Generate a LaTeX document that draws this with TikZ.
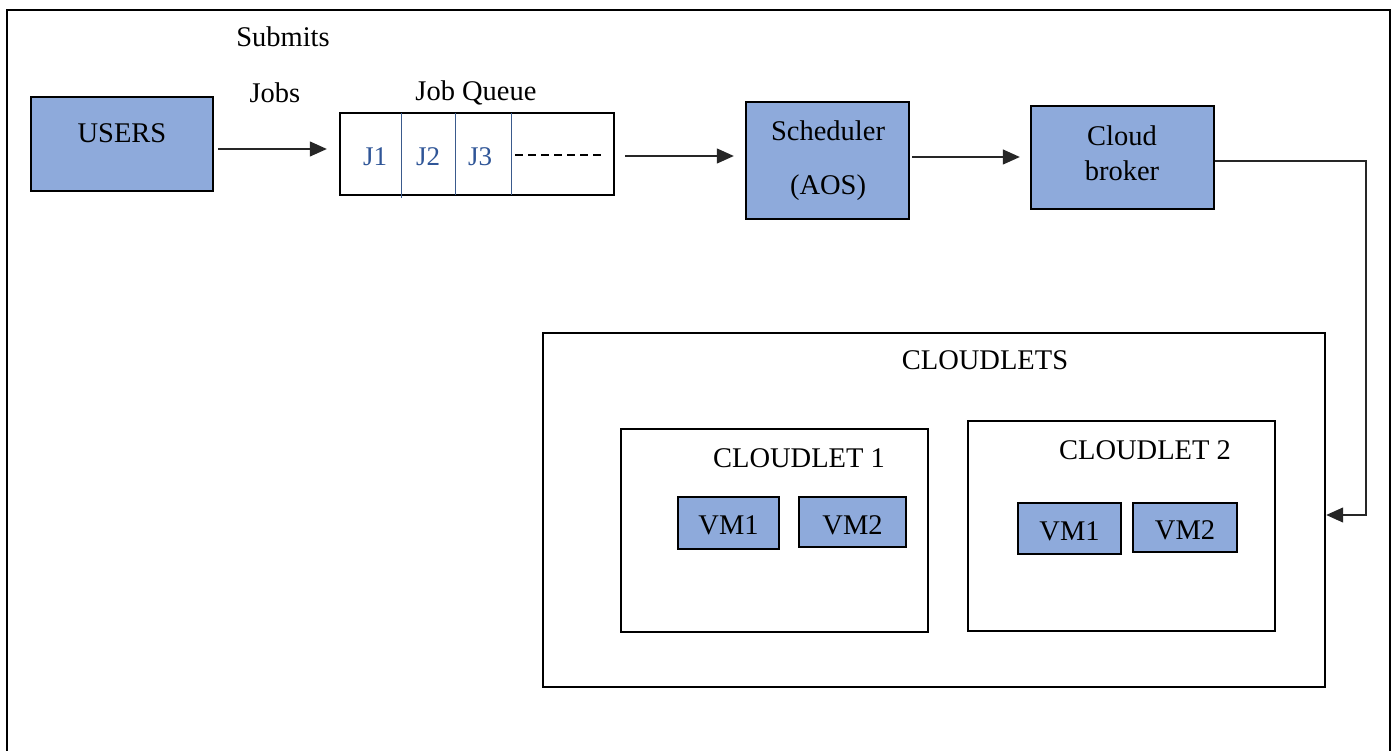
\documentclass[tikz,border=0pt]{standalone}
\usepackage{fontspec}
\setmainfont{Liberation Serif}
\usetikzlibrary{arrows.meta}
\definecolor{boxblue}{HTML}{8EAADB}
\definecolor{jblue}{HTML}{2F5597}
\definecolor{divblue}{HTML}{3A5A8C}
\tikzset{
  bluebox/.style={draw=black, line width=2.4pt, fill=boxblue, inner sep=0pt},
  whitebox/.style={draw=black, line width=2.4pt, fill=white, inner sep=0pt},
  txt/.style={inner sep=0pt, font=\fontsize{28.5}{33}\selectfont},
  jtxt/.style={inner sep=0pt, font=\fontsize{27}{31}\selectfont, text=jblue},
  conn/.style={draw=black!85, line width=1.3pt, -{Triangle[length=17pt,width=15pt]}},
}
\begin{document}
\begin{tikzpicture}[x=1pt,y=-1pt]
\useasboundingbox (0,0) rectangle (1396,751);
% outer frame
\draw[line width=2.6pt] (7,760) -- (7,10) -- (1390,10) -- (1390,760);

% users
\node[bluebox, minimum width=182pt, minimum height=94pt] (users) at (122,144) {};
\node[txt] (userst) at (122,133) {USERS};
\node[txt] (submits) at (283,37) {Submits};
\node[txt] (jobs) at (275,93) {Jobs};

% queue
\node[whitebox, minimum width=274pt, minimum height=82pt] (queue) at (477,154) {};
\node[txt] (queuet) at (476,93) {Job Queue};
\coordinate (d1a) at (401,113); \coordinate (d1b) at (401,198);
\coordinate (d2a) at (455,113); \coordinate (d2b) at (455,195);
\coordinate (d3a) at (511,113); \coordinate (d3b) at (511,195);
\draw[divblue, line width=1pt] (d1a) -- (d1b) (d2a) -- (d2b) (d3a) -- (d3b);
\node[jtxt] (j1) at (375,157) {J1};
\node[jtxt] (j2) at (428,157) {J2};
\node[jtxt] (j3) at (480,157) {J3};
\coordinate (dsa) at (515,155); \coordinate (dsb) at (602,155);
\draw[line width=2.4pt, dash pattern=on 8pt off 5pt] (dsa) -- (dsb);

% scheduler
\node[bluebox, minimum width=163pt, minimum height=117pt] (sched) at (827.5,160.5) {};
\node[txt] (schedt) at (828,131) {Scheduler};
\node[txt] (aos) at (828,188) {(AOS)};

% broker
\node[bluebox, minimum width=183pt, minimum height=103pt] (broker) at (1122.5,157.5) {};
\node[txt] (cloudt) at (1122,136) {Cloud};
\node[txt] (brokert) at (1122,171) {broker};

% cloudlets
\node[whitebox, minimum width=782pt, minimum height=354pt] (cloudlets) at (934,510) {};
\node[txt] (cloudletst) at (985,360) {CLOUDLETS};

\node[whitebox, minimum width=307pt, minimum height=203pt] (cl1) at (774.5,530.5) {};
\node[txt] (cl1t) at (799,458) {CLOUDLET 1};
\node[bluebox, minimum width=101pt, minimum height=52pt] (c1vm1) at (728.5,523) {};
\node[txt] (c1vm1t) at (728.5,525) {VM1};
\node[bluebox, minimum width=107pt, minimum height=50pt] (c1vm2) at (852.5,522) {};
\node[txt] (c1vm2t) at (852.5,525) {VM2};

\node[whitebox, minimum width=307pt, minimum height=210pt] (cl2) at (1121.5,526) {};
\node[txt] (cl2t) at (1145,450) {CLOUDLET 2};
\node[bluebox, minimum width=103pt, minimum height=51pt] (c2vm1) at (1069.5,528.5) {};
\node[txt] (c2vm1t) at (1069.5,531) {VM1};
\node[bluebox, minimum width=104pt, minimum height=49pt] (c2vm2) at (1185,527.5) {};
\node[txt] (c2vm2t) at (1185,530) {VM2};

% connectors
\draw[conn, shorten <=4pt, shorten >=12pt] (users.east |- 0,149) -- (queue.west |- 0,149);
\draw[conn, shorten <=10pt, shorten >=11pt] (queue.east |- 0,156) -- (sched.west |- 0,156);
\draw[conn, shorten <=2pt, shorten >=10pt] (sched.east |- 0,157) -- (broker.west |- 0,157);
\coordinate (rt) at (1366,161);
\coordinate (rb) at (1366,515);
\draw[conn] (broker.east |- rt) -- (rt) -- (rb) -- (cloudlets.east |- rb);
\end{tikzpicture}
\end{document}
